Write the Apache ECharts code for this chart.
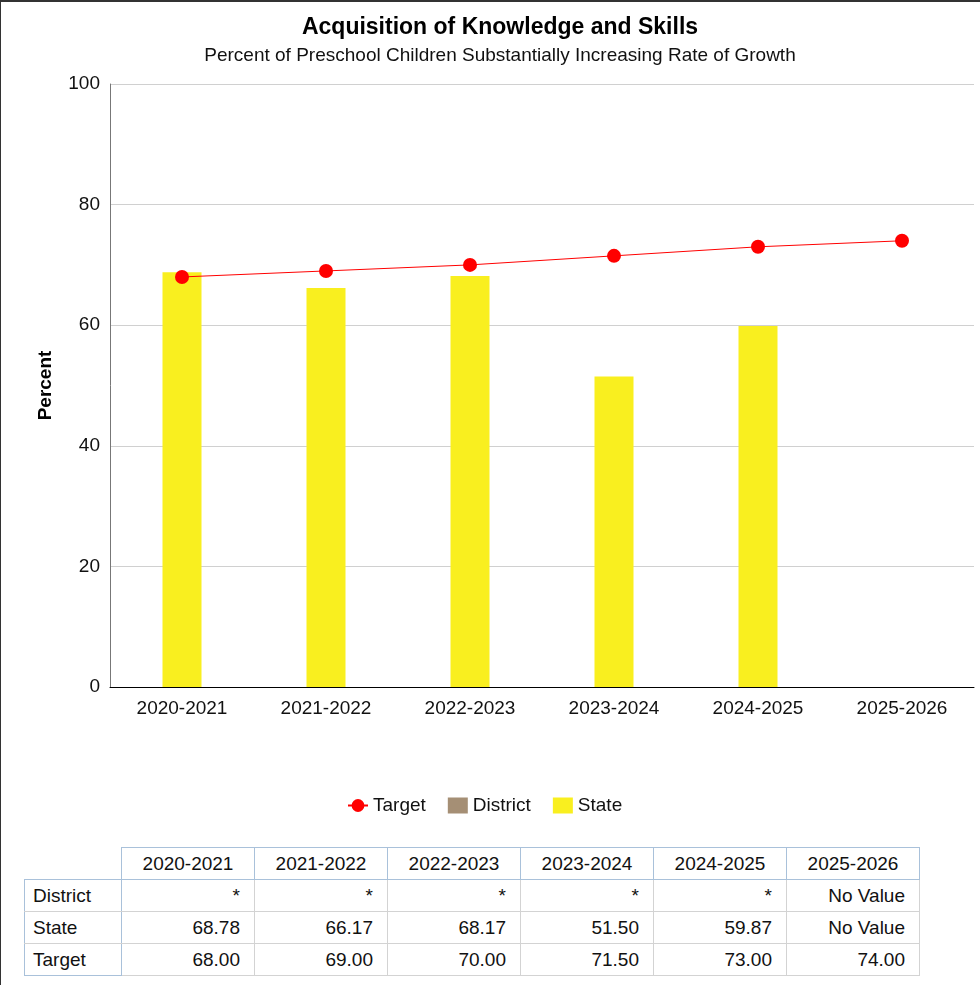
<!DOCTYPE html>
<html><head><meta charset="utf-8">
<script src="https://cdn.jsdelivr.net/npm/echarts@6/dist/echarts.min.js"></script>
<style>
html,body{margin:0;padding:0;background:#fff;font-family:"Liberation Sans",Arial,sans-serif;}
#frame{position:absolute;left:0;top:0;width:980px;height:985px;border-top:2px solid #333;border-left:1px solid #333;box-sizing:border-box;}
#chart{position:absolute;left:0;top:0;width:980px;height:830px;}
#tbl{position:absolute;left:24px;top:847px;border-collapse:collapse;font-size:19px;color:#111;}
#tbl td{height:32px;padding:0 14px 0 8px;box-sizing:border-box;border:1px solid #d3d3d3;}
#tbl tr.h td{text-align:center;border:1px solid #a9c1da;padding:0;}
#tbl tr.h td.blank{border:none;border-right:1px solid #a9c1da;border-bottom:1px solid #a9c1da;}
#tbl td.lab{text-align:left;border-left:1px solid #a9c1da;border-right:1px solid #a9c1da;width:97px;}
#tbl td.v{text-align:right;width:133px;}
</style></head>
<body>
<div id="chart"></div>
<table id="tbl"></table>
<div id="frame"></div>
<script>
const categories = ["2020-2021","2021-2022","2022-2023","2023-2024","2024-2025","2025-2026"];
const districtValues = [null,null,null,null,null,null];
const districtText = ["*","*","*","*","*","No Value"];
const stateValues = [68.78,66.17,68.17,51.50,59.87,null];
const targetValues = [68.00,69.00,70.00,71.50,73.00,74.00];
const yTicks = [0,20,40,60,80,100];

const chart = echarts.init(document.getElementById('chart'));
chart.setOption({
  animation:false,
  title:{
    text:'Acquisition of Knowledge and Skills',
    subtext:'Percent of Preschool Children Substantially Increasing Rate of Growth',
    left:495, textAlign:'center', top:11, itemGap:7,
    textStyle:{fontFamily:'Liberation Sans',fontSize:23,fontWeight:'bold',color:'#000'},
    subtextStyle:{fontFamily:'Liberation Sans',fontSize:19,color:'#111'}
  },
  legend:{
    top:791, left:342, itemGap:22,
    textStyle:{fontFamily:'Liberation Sans',fontSize:19,color:'#111'},
    itemWidth:20,itemHeight:16,
    data:[
      {name:'Target'},
      {name:'District',icon:'rect',itemStyle:{}},
      {name:'State',icon:'rect'}
    ]
  },
  grid:{left:110,right:6,top:84,bottom:143,containLabel:false},
  xAxis:{
    type:'category', data:categories,
    axisLine:{lineStyle:{color:'#000',width:1}},
    axisTick:{show:false},
    axisLabel:{fontFamily:'Liberation Sans',fontSize:19,color:'#111',margin:12}
  },
  yAxis:{
    type:'value', min:yTicks[0], max:yTicks[yTicks.length-1], interval:20,
    name:'Percent', nameLocation:'middle', nameGap:55,
    nameTextStyle:{fontFamily:'Liberation Sans',fontSize:19,fontWeight:'bold',color:'#000'},
    axisLine:{show:true,lineStyle:{color:'#777'}},
    axisTick:{show:false},
    axisLabel:{fontFamily:'Liberation Sans',fontSize:19,color:'#111',margin:10},
    splitLine:{lineStyle:{color:'#d0d0d0'}}
  },
  series:[
    {name:'District',type:'bar',data:districtValues,barWidth:39,barGap:'-100%',itemStyle:{color:'#a58f75'}},
    {name:'State',type:'bar',data:stateValues,barWidth:39,barGap:'-100%',itemStyle:{color:'#f9ef1f'}},
    {name:'Target',type:'line',data:targetValues,symbol:'circle',symbolSize:14,
     itemStyle:{color:'#ff0000'},lineStyle:{color:'#ff0000',width:1},z:5}
  ]
});

// table
const tbl = document.getElementById('tbl');
const fmt = v => v==null ? 'No Value' : v.toFixed(2);
let html = '<tr class="h"><td class="blank" style="width:97px"></td>' + categories.map(c=>'<td style="width:133px">'+c+'</td>').join('') + '</tr>';
html += '<tr><td class="lab">District</td>' + districtText.map(t=>'<td class="v">'+t+'</td>').join('') + '</tr>';
html += '<tr><td class="lab">State</td>' + stateValues.map(v=>'<td class="v">'+fmt(v)+'</td>').join('') + '</tr>';
html += '<tr><td class="lab" style="border-bottom:1px solid #a9c1da">Target</td>' + targetValues.map(v=>'<td class="v">'+fmt(v)+'</td>').join('') + '</tr>';
tbl.innerHTML = html;
</script>
</body></html>
